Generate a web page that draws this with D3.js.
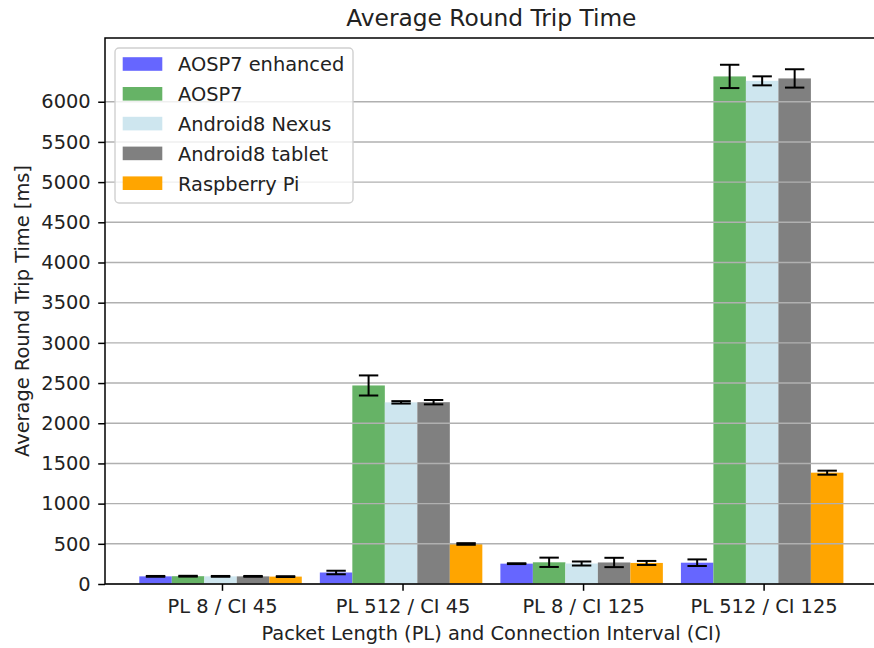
<!DOCTYPE html>
<html>
<head>
<meta charset="utf-8">
<script src="https://cdn.jsdelivr.net/npm/d3@7"></script>
<style>
  html, body { margin: 0; padding: 0; background: #fff; }
  svg { display: block; font-family: "DejaVu Sans", sans-serif; }
</style>
</head>
<body>
<svg id="chart" width="874" height="648"></svg>
<script>
// Connection settings on the x axis
const categories = ["PL 8 / CI 45", "PL 512 / CI 45", "PL 8 / CI 125", "PL 512 / CI 125"];

// Devices (one bar per device in each group)
const seriesNames = ["AOSP7 enhanced", "AOSP7", "Android8 Nexus", "Android8 tablet", "Raspberry Pi"];
const seriesColors = ["#6666ff", "#66b366", "#cee6ef", "#808080", "#ffa500"];

// Mean round trip time [ms] per device, per category
const aospEnhanced = [95, 143, 253, 265];
const aosp7 = [97, 2470, 270, 6315];
const nexus = [95, 2260, 255, 6260];
const tablet = [95, 2262, 268, 6290];
const raspberry = [92, 498, 262, 1385];

// Standard deviation [ms]
const aospEnhancedErr = [5, 22, 5, 41];
const aosp7Err = [5, 125, 58, 145];
const nexusErr = [5, 15, 25, 56];
const tabletErr = [5, 27, 58, 114];
const raspberryErr = [5, 10, 25, 25];

const yTicks = d3.range(0, 6001, 500);

(function draw() {
  const values = [aospEnhanced, aosp7, nexus, tablet, raspberry];
  const errors = [aospEnhancedErr, aosp7Err, nexusErr, tabletErr, raspberryErr];

  const svg = d3.select("#chart");
  const plotLeft = 105, plotRight = 877.7, plotTop = 38, plotBottom = 584;
  const barWidth = 0.18;
  const tickShift = 0.008;

  const x = d3.scaleLinear().domain([-0.64, 3.64]).range([plotLeft, plotRight]);
  const y = d3.scaleLinear().domain([0, 6793]).range([plotBottom, plotTop]);

  const records = [];
  values.forEach((vals, k) => {
    vals.forEach((v, i) => {
      records.push({ k, i, v, e: errors[k][i] });
    });
  });

  // Bars
  svg.append("g").selectAll("rect").data(records).join("rect")
    .attr("x", d => x(d.i + (d.k - 2.5) * barWidth))
    .attr("width", d => x(d.i + (d.k - 1.5) * barWidth) - x(d.i + (d.k - 2.5) * barWidth))
    .attr("y", d => y(d.v))
    .attr("height", d => y(0) - y(d.v))
    .attr("fill", d => seriesColors[d.k]);

  // Horizontal grid
  svg.append("g").selectAll("line").data(yTicks).join("line")
    .attr("x1", plotLeft).attr("x2", plotRight)
    .attr("y1", d => y(d)).attr("y2", d => y(d))
    .attr("stroke", "#b0b0b0").attr("stroke-width", 1.4);

  // Error bars
  const eb = svg.append("g").attr("stroke", "#000").attr("stroke-width", 2);
  const capHalf = 9.7;
  records.forEach(d => {
    const cx = x(d.i + (d.k - 2) * barWidth);
    eb.append("line").attr("x1", cx).attr("x2", cx)
      .attr("y1", y(d.v - d.e)).attr("y2", y(d.v + d.e));
    [d.v - d.e, d.v + d.e].forEach(t => {
      eb.append("line").attr("x1", cx - capHalf).attr("x2", cx + capHalf)
        .attr("y1", y(t)).attr("y2", y(t));
    });
  });

  // Axes
  const yAxis = d3.axisLeft(y).tickValues(yTicks).tickFormat(d3.format("d"))
    .tickSize(6.8).tickPadding(7.5);
  const gy = svg.append("g").attr("transform", `translate(${plotLeft},0)`).call(yAxis);
  const xAxis = d3.axisBottom(x).tickValues(categories.map((c, i) => i + tickShift))
    .tickFormat((d, i) => categories[i]).tickSize(6.8).tickPadding(8);
  const gx = svg.append("g").attr("transform", `translate(0,${plotBottom})`).call(xAxis);
  [gx, gy].forEach(g => {
    g.select(".domain").remove();
    g.selectAll("line").attr("stroke", "#000").attr("stroke-width", 1.5);
    g.selectAll("text").attr("font-size", 19.4).attr("fill", "#222")
      .attr("font-family", "DejaVu Sans, sans-serif");
  });

  // Spines
  svg.append("rect").attr("x", plotLeft).attr("y", plotTop)
    .attr("width", plotRight - plotLeft).attr("height", plotBottom - plotTop)
    .attr("fill", "none").attr("stroke", "#000").attr("stroke-width", 1.5);

  // Titles
  svg.append("text").attr("x", x(1.5)).attr("y", 26).attr("text-anchor", "middle")
    .attr("font-size", 23.3).attr("fill", "#222").text("Average Round Trip Time");
  svg.append("text").attr("x", x(1.5)).attr("y", 640).attr("text-anchor", "middle")
    .attr("font-size", 19.4).attr("fill", "#222").text("Packet Length (PL) and Connection Interval (CI)");
  svg.append("text").attr("transform", `translate(28.5,${(plotTop + plotBottom) / 2}) rotate(-90)`)
    .attr("text-anchor", "middle").attr("font-size", 19.4).attr("fill", "#222")
    .text("Average Round Trip Time [ms]");

  // Legend
  const lg = svg.append("g");
  lg.append("rect").attr("x", 115).attr("y", 48).attr("width", 238).attr("height", 155)
    .attr("rx", 4).attr("fill", "#fff").attr("fill-opacity", 0.8)
    .attr("stroke", "#d0d0d0").attr("stroke-width", 1.4);
  seriesNames.forEach((name, k) => {
    const cy = 64 + k * 29.8;
    lg.append("rect").attr("x", 122.7).attr("y", cy - 6.8).attr("width", 39.6).attr("height", 13.6)
      .attr("fill", seriesColors[k]);
    lg.append("text").attr("x", 178).attr("y", cy + 7.3).attr("font-size", 19.4)
      .attr("fill", "#222").text(name);
  });
})();
</script>
</body>
</html>
